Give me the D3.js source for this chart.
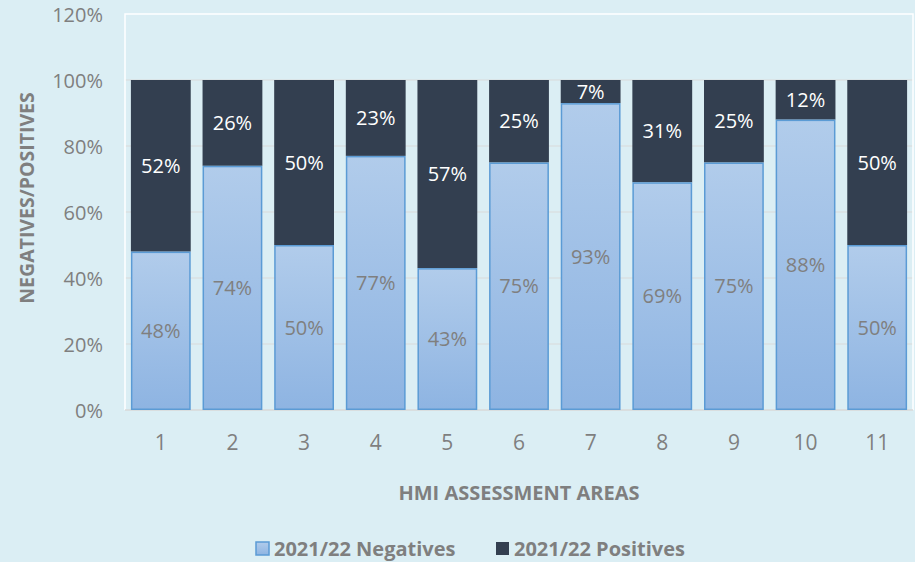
<!DOCTYPE html>
<html>
<head>
<meta charset="utf-8">
<script src="https://cdn.jsdelivr.net/npm/d3@7"></script>
<style>
  body { margin: 0; background: #dbeef4; }
  text { font-family: "Open Sans", sans-serif; }
</style>
</head>
<body>
<div id="chart"></div>
<script>
var areas = ["1", "2", "3", "4", "5", "6", "7", "8", "9", "10", "11"];
var negatives = [48, 74, 50, 77, 43, 75, 93, 69, 75, 88, 50];
var positives = [52, 26, 50, 23, 57, 25, 7, 31, 25, 12, 50];
var yTicks = [0, 20, 40, 60, 80, 100, 120];

var width = 915;
var height = 562;
var plotLeft = 125, plotRight = 913, plotTop = 14, plotBottom = 410;

var svg = d3.select("#chart")
    .append("svg")
      .attr("width", width)
      .attr("height", height);

svg.append("rect")
    .attr("width", width)
    .attr("height", height)
    .attr("fill", "#dbeef4");

var grad = svg.append("defs")
  .append("linearGradient")
    .attr("id", "negGrad")
    .attr("x1", "0%").attr("y1", "0%")
    .attr("x2", "0%").attr("y2", "100%");
grad.append("stop").attr("offset", "0%").attr("stop-color", "#b1cceb");
grad.append("stop").attr("offset", "100%").attr("stop-color", "#8eb4e2");

var x = d3.scaleBand()
    .domain(areas)
    .range([plotLeft, plotRight])
    .paddingInner(0.165)
    .paddingOuter(0.0825);

var y = d3.scaleLinear()
    .domain([0, 120])
    .range([plotBottom, plotTop]);

// gridlines
svg.append("g")
  .selectAll("line")
  .data(yTicks.filter(function(d) { return d > 0 && d < 120; }))
  .enter()
  .append("line")
    .attr("x1", plotLeft).attr("x2", plotRight)
    .attr("y1", function(d) { return y(d); })
    .attr("y2", function(d) { return y(d); })
    .attr("stroke", "#d9d9d9")
    .attr("stroke-width", 1.2);

// plot area border
svg.append("path")
    .attr("d", "M" + plotLeft + "," + plotBottom + "V" + plotTop + "H" + plotRight + "V" + plotBottom)
    .attr("fill", "none")
    .attr("stroke", "#ffffff")
    .attr("stroke-width", 1.5);

svg.append("line")
    .attr("x1", plotLeft).attr("x2", plotRight)
    .attr("y1", plotBottom).attr("y2", plotBottom)
    .attr("stroke", "#d9d9d9")
    .attr("stroke-width", 1.5);

// y axis labels
var yAxis = svg.append("g")
    .attr("transform", "translate(" + (plotLeft - 22) + ",0)")
    .call(d3.axisLeft(y).tickValues(yTicks).tickSize(0).tickFormat(function(d) { return d + "%"; }));
yAxis.select(".domain").remove();
yAxis.selectAll("text")
    .attr("x", 0)
    .attr("dy", "0.35em")
    .style("font-size", "20px")
    .style("font-family", "'Open Sans', sans-serif")
    .attr("fill", "#7f7f7f");

// x axis labels
var xAxis = svg.append("g")
    .attr("transform", "translate(0," + plotBottom + ")")
    .call(d3.axisBottom(x).tickSize(0));
xAxis.select(".domain").remove();
xAxis.selectAll("text")
    .attr("y", 33)
    .attr("dy", "0.35em")
    .style("font-size", "21px")
    .style("font-family", "'Open Sans', sans-serif")
    .attr("fill", "#7f7f7f");

// bars
var rows = areas.map(function(a, i) { return { area: a, neg: negatives[i], pos: positives[i] }; });

svg.append("g")
  .selectAll("rect")
  .data(rows)
  .enter()
  .append("rect")
    .attr("x", function(d) { return x(d.area); })
    .attr("y", function(d) { return y(d.neg + d.pos); })
    .attr("width", x.bandwidth())
    .attr("height", function(d) { return y(d.neg) - y(d.neg + d.pos); })
    .attr("fill", "#333f50");

svg.append("g")
  .selectAll("rect")
  .data(rows)
  .enter()
  .append("rect")
    .attr("x", function(d) { return x(d.area) + 0.75; })
    .attr("y", function(d) { return y(d.neg) + 0.75; })
    .attr("width", x.bandwidth() - 1.5)
    .attr("height", function(d) { return y(0) - y(d.neg) - 1.5; })
    .attr("fill", "url(#negGrad)")
    .attr("stroke", "#5b9bd5")
    .attr("stroke-width", 1.5);

// labels
svg.append("g")
  .selectAll("text")
  .data(rows)
  .enter()
  .append("text")
    .attr("x", function(d) { return x(d.area) + x.bandwidth() / 2; })
    .attr("y", function(d) { return (y(d.neg) + y(d.neg + d.pos)) / 2; })
    .attr("dy", "0.35em")
    .attr("text-anchor", "middle")
    .attr("fill", "#ffffff")
    .style("font-size", "20px")
    .text(function(d) { return d.pos + "%"; });

svg.append("g")
  .selectAll("text")
  .data(rows)
  .enter()
  .append("text")
    .attr("x", function(d) { return x(d.area) + x.bandwidth() / 2; })
    .attr("y", function(d) { return (y(0) + y(d.neg)) / 2; })
    .attr("dy", "0.35em")
    .attr("text-anchor", "middle")
    .attr("fill", "#7f7f7f")
    .style("font-size", "20px")
    .text(function(d) { return d.neg + "%"; });

// axis titles
svg.append("text")
    .attr("x", (plotLeft + plotRight) / 2)
    .attr("y", 493)
    .attr("dy", "0.35em")
    .attr("text-anchor", "middle")
    .attr("fill", "#7f7f7f")
    .style("font-size", "20px")
    .style("font-weight", "bold")
    .text("HMI ASSESSMENT AREAS");

svg.append("text")
    .attr("transform", "translate(27,198) rotate(-90)")
    .attr("dy", "0.35em")
    .attr("text-anchor", "middle")
    .attr("fill", "#7f7f7f")
    .style("font-size", "19.5px")
    .style("font-weight", "bold")
    .text("NEGATIVES/POSITIVES");

// legend
var legendItems = [
  { name: "2021/22 Negatives", x: 255, fill: "url(#negGrad)", stroke: "#5b9bd5" },
  { name: "2021/22 Positives", x: 495, fill: "#333f50", stroke: "none" }
];
var legend = svg.append("g")
  .selectAll("g")
  .data(legendItems)
  .enter()
  .append("g")
    .attr("transform", function(d) { return "translate(" + d.x + ",549)"; });
legend.append("rect")
    .attr("x", 1).attr("y", -7)
    .attr("width", 13).attr("height", 13)
    .attr("fill", function(d) { return d.fill; })
    .attr("stroke", function(d) { return d.stroke; })
    .attr("stroke-width", 1.5);
legend.append("text")
    .attr("x", 19)
    .attr("dy", "0.35em")
    .attr("fill", "#7f7f7f")
    .style("font-size", "20px")
    .style("font-weight", "bold")
    .text(function(d) { return d.name; });
</script>
</body>
</html>
